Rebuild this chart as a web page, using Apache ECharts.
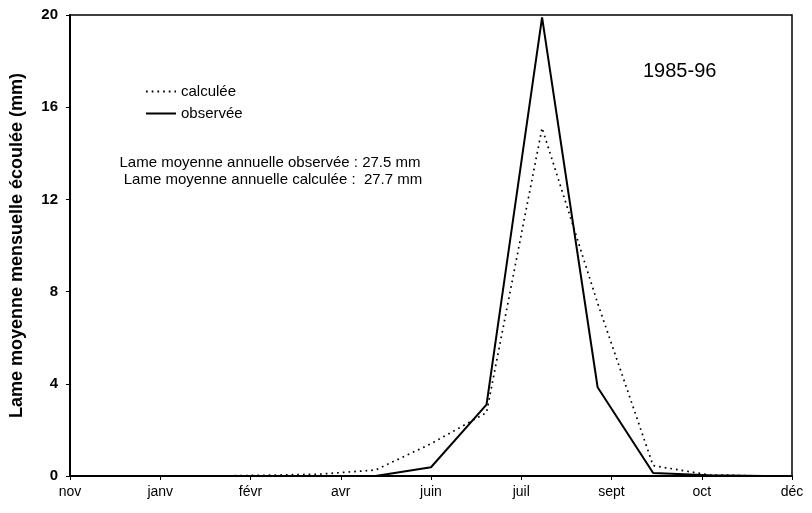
<!DOCTYPE html>
<html>
<head>
<meta charset="utf-8">
<title>Lame moyenne mensuelle écoulée 1985-96</title>
<script src="https://cdn.jsdelivr.net/npm/echarts@6/dist/echarts.min.js"></script>
<style>
  html, body { margin: 0; padding: 0; background: #fff; }
  #chart { width: 812px; height: 513px; }
</style>
</head>
<body>
<div id="chart"></div>
<script>
  // 13 pas mensuels, points au centre de chaque pas
  const monthIdx = [0, 1, 2, 3, 4, 5, 6, 7, 8, 9, 10, 11, 12];
  const observee = [0, 0, 0, 0, 0, 0, 0.38, 3.1, 19.9, 3.85, 0.13, 0.03, 0];
  const calculee = [0, 0, 0, 0.03, 0.08, 0.26, 1.4, 2.75, 15.1, 7.5, 0.45, 0.05, 0];
  // étiquettes de l'axe x (8 intervalles égaux)
  const xLabels = ['nov', 'janv', 'févr', 'avr', 'juin', 'juil', 'sept', 'oct', 'déc'];
  const yTicks = [0, 4, 8, 12, 16, 20];

  const font = 'Liberation Sans, Arial, sans-serif';
  const xStep = monthIdx.length / (xLabels.length - 1);

  let myChart = echarts.init(document.getElementById('chart'));
  myChart.setOption({
    animation: false,
    textStyle: { fontFamily: font },
    grid: {
      left: 70, right: 20, top: 15, bottom: 37,
      show: true,
      borderColor: '#000',
      borderWidth: 1.5
    },
    legend: {
      orient: 'vertical',
      left: 140, top: 79,
      itemWidth: 30, itemHeight: 14,
      itemGap: 7,
      itemStyle: { opacity: 0 },
      textStyle: { fontSize: 15, color: '#000', fontFamily: font },
      data: ['calculée', 'observée']
    },
    graphic: [
      { type: 'text', left: 643, top: 61, style: { text: '1985-96', fontSize: 20, fill: '#000', fontFamily: font } },
      { type: 'text', x: 270, y: 155, style: { text: 'Lame moyenne annuelle observée : 27.5 mm', fontSize: 15, fill: '#000', fontFamily: font, align: 'center' } },
      { type: 'text', x: 273, y: 172, style: { text: 'Lame moyenne annuelle calculée :  27.7 mm', fontSize: 15, fill: '#000', fontFamily: font, align: 'center' } }
    ],
    xAxis: {
      type: 'value',
      min: 0, max: monthIdx.length,
      interval: xStep,
      axisLine: { lineStyle: { color: '#000', width: 2 } },
      axisTick: { show: true, length: 4, lineStyle: { color: '#000' } },
      splitLine: { show: false },
      axisLabel: {
        color: '#000', fontSize: 14, margin: 9,
        formatter: function (v) { return xLabels[Math.round(v / xStep)]; }
      }
    },
    yAxis: {
      type: 'value',
      min: yTicks[0], max: yTicks[yTicks.length - 1], interval: 4,
      name: 'Lame moyenne mensuelle écoulée (mm)',
      nameLocation: 'middle',
      nameGap: 44,
      nameTextStyle: { fontSize: 18, fontWeight: 'bold', color: '#000', fontFamily: font },
      axisLine: { show: true, lineStyle: { color: '#000', width: 2 } },
      axisTick: { show: true, length: 4, lineStyle: { color: '#000' } },
      splitLine: { show: false },
      axisLabel: { color: '#000', fontSize: 15, fontWeight: 'bold', margin: 12 }
    },
    series: [
      {
        name: 'calculée',
        type: 'line',
        symbol: 'none',
        data: monthIdx.map((m, i) => [m + 0.5, calculee[i]]),
        lineStyle: { color: '#000', width: 1.7, type: [1.7, 4] },
        itemStyle: { color: '#000' }
      },
      {
        name: 'observée',
        type: 'line',
        symbol: 'none',
        data: monthIdx.map((m, i) => [m + 0.5, observee[i]]),
        lineStyle: { color: '#000', width: 2 },
        itemStyle: { color: '#000' }
      }
    ]
  });
</script>
</body>
</html>
